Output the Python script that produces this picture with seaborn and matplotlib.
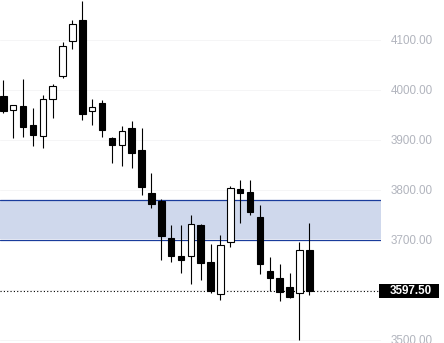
import matplotlib
matplotlib.use("Agg")
import matplotlib.pyplot as plt
from matplotlib.patches import Rectangle
import seaborn as sns
import numpy as np
import pandas as pd

# ---- data ----
opens  = [3988, 3959, 3968, 3930, 3907, 3981, 4027, 4097, 4140, 3957, 3974, 3904, 3889, 3924, 3880, 3793,
          3778, 3704, 3667, 3667, 3729, 3656, 3592, 3695, 3801, 3796, 3746, 3638, 3624, 3606, 3593, 3680]
highs  = [4020, 3971, 4022, 3965, 3990, 4013, 4097, 4140, 4178, 3982, 3980, 3907, 3928, 3938, 3925, 3835,
          3783, 3730, 3731, 3750, 3732, 3692, 3711, 3808, 3820, 3820, 3770, 3666, 3652, 3634, 3696, 3734]
lows   = [3954, 3905, 3907, 3889, 3885, 3945, 4025, 4083, 3941, 3930, 3907, 3855, 3848, 3845, 3791, 3765,
          3661, 3657, 3635, 3613, 3620, 3595, 3581, 3687, 3735, 3751, 3633, 3599, 3579, 3585, 3500, 3591]
closes = [3957, 3969, 3925, 3910, 3982, 4007, 4087, 4132, 3951, 3966, 3919, 3889, 3918, 3873, 3805, 3771,
          3707, 3667, 3659, 3731, 3653, 3598, 3689, 3803, 3793, 3755, 3651, 3623, 3596, 3585, 3679, 3597.5]
zone_low, zone_high = 3701, 3780
last_price = 3597.50
tick_values = [3500, 3700, 3800, 3900, 4000, 4100]

df = pd.DataFrame({"open": opens, "high": highs, "low": lows, "close": closes})
df["idx"] = np.arange(len(df))
df["up"] = df["close"] >= df["open"]
df["body_lo"] = df[["open", "close"]].min(axis=1)
df["body_h"] = (df["close"] - df["open"]).abs().clip(lower=1.5)

sns.set_style("white")
plt.rcParams["font.family"] = ["Liberation Sans", "DejaVu Sans"]

W, H = 444, 343
fig = plt.figure(figsize=(W / 100, H / 100), dpi=100)
ax = fig.add_axes([0, 0, 381 / W, 1])

ax.set_xlim(-0.334, 38.26)
ax.set_ylim(3494, 4180)

# faint grid
for v in [3500, 3600, 3700, 3800, 3900, 4000, 4100]:
    ax.axhline(v, color="#f5f5f6", lw=0.7, zorder=0)

# zone
ax.axhspan(zone_low, zone_high, facecolor="#cfd8ec", edgecolor="none", zorder=1)
ax.axhline(zone_high, color="#1a3c9c", lw=0.9, zorder=2)
ax.axhline(zone_low, color="#1a3c9c", lw=0.9, zorder=2)

# last price dotted line
ax.axhline(last_price, color="black", lw=0.8, linestyle=(0, (1, 2)), zorder=2)

# wicks
ax.vlines(df["idx"], df["low"], df["high"], color="black", lw=0.8, zorder=3)
# bodies
ax.bar(df["idx"], df["body_h"], bottom=df["body_lo"], width=0.66,
       color=["white" if u else "black" for u in df["up"]],
       edgecolor="black", linewidth=0.8, zorder=4)

for s in ax.spines.values():
    s.set_visible(False)
ax.set_xticks([])
ax.yaxis.tick_right()
ax.set_yticks(tick_values)
ax.set_yticklabels([f"{v:.2f}" for v in tick_values])
ax.tick_params(axis="y", length=0, pad=7, labelsize=8.4, labelcolor="#b2b5be")

# last price label box
fig.patches.append(Rectangle((379 / W, (H - 298) / H), 60 / W, 14 / H,
                             transform=fig.transFigure, facecolor="black",
                             edgecolor="none", zorder=5))
y_lp = ax.transData.transform((0, last_price))[1]
fig.text(411 / W, y_lp / (H), f"{last_price:.2f}", color="white", fontsize=8.4,
         fontweight="bold", ha="center", va="center", zorder=6)

fig.savefig("out.png", dpi=100)
